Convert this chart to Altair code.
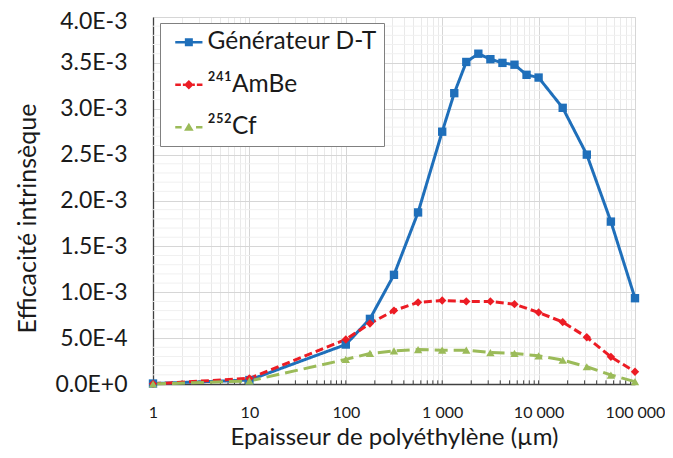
import altair as alt
import pandas as pd

# ---- data ----
SERIES = ["Générateur D-T", "²⁴¹AmBe", "²⁵²Cf"]
COLORS = ["#1f6fba", "#ec1c24", "#9bbb59"]

X_DT = [1, 10, 100, 178, 316, 562, 1000, 1334, 1778, 2371, 3162, 4217, 5623,
        7499, 10000, 17783, 31623, 56234, 100000]
Y_DT = [5e-6, 4.3e-5, 4.3e-4, 7.1e-4, 1.19e-3, 1.87e-3, 2.75e-3, 3.17e-3,
        3.51e-3, 3.60e-3, 3.54e-3, 3.50e-3, 3.48e-3, 3.37e-3, 3.34e-3,
        3.01e-3, 2.50e-3, 1.77e-3, 9.35e-4]

X_SRC = [1, 10, 100, 178, 316, 562, 1000, 1778, 3162, 5623, 10000, 17783,
         31623, 56234, 100000]
Y_AMBE = [2e-6, 6.2e-5, 4.85e-4, 6.6e-4, 8.0e-4, 8.9e-4, 9.1e-4, 9.0e-4,
          9.0e-4, 8.7e-4, 7.8e-4, 6.75e-4, 5.1e-4, 2.96e-4, 1.33e-4]
Y_CF = [0.0, 3.3e-5, 2.68e-4, 3.33e-4, 3.6e-4, 3.76e-4, 3.69e-4, 3.69e-4,
        3.43e-4, 3.33e-4, 3.07e-4, 2.6e-4, 1.88e-4, 9.8e-5, 2.5e-5]

X_TICKS = [1, 10, 100, 1000, 10000, 100000]
X_LABELS = ["1", "10", "100", "1 000", "10 000", "100 000"]
X_MINOR = [m * d for d in [1, 10, 100, 1000, 10000] for m in range(2, 10)]
Y_TICKS = [0, 0.0005, 0.001, 0.0015, 0.002, 0.0025, 0.003, 0.0035, 0.004]
Y_LABELS = ["0.0E+0", "5.0E-4", "1.0E-3", "1.5E-3", "2.0E-3", "2.5E-3",
            "3.0E-3", "3.5E-3", "4.0E-3"]
Y_MINOR = [round(i * 0.0001, 4) for i in range(41) if i % 5 != 0]

FONT = "Lato"
TEXT = "#1a1a1a"

rows = []
for x, y in zip(X_DT, Y_DT):
    rows.append({"series": SERIES[0], "x": x, "y": y})
for x, y in zip(X_SRC, Y_AMBE):
    rows.append({"series": SERIES[1], "x": x, "y": y})
for x, y in zip(X_SRC, Y_CF):
    rows.append({"series": SERIES[2], "x": x, "y": y})
df = pd.DataFrame(rows)

W, H = 482, 367


def label_expr(values, labels):
    return "".join(f"datum.value == {v} ? '{l}' : " for v, l in zip(values, labels)) + "''"


major_x = "indexof([" + ",".join(str(v) for v in X_TICKS) + "], datum.value) >= 0"

x_scale = alt.Scale(type="log", domain=[1, 100000], nice=False)
y_scale = alt.Scale(domain=[0, 0.004], nice=False, zero=True)

x_axis = alt.Axis(
    values=sorted(X_TICKS + X_MINOR), labelExpr=label_expr(X_TICKS, X_LABELS),
    title="Epaisseur de polyéthylène (µm)", grid=True,
    gridColor={"condition": {"test": major_x, "value": "#d6d6d6"}, "value": "#e9e9e9"},
    gridWidth=1, ticks=False, domainColor="#404040", domainWidth=1.3,
    labelFont=FONT, labelFontSize=16, labelColor=TEXT, labelPadding=20,
    labelOverlap=False, labelFlush=False,
    titleFont=FONT, titleFontSize=24, titleFontWeight="normal", titleColor=TEXT,
    titlePadding=5,
)
y_axis = alt.Axis(
    values=Y_TICKS, labelExpr=label_expr(Y_TICKS, Y_LABELS),
    labelOffset={"condition": {"test": "datum.value == 0.004", "value": 4}, "value": 0},
    title="Efficacité intrinsèque", grid=True, gridColor="#d6d6d6",
    gridWidth=1, ticks=False, domainColor="#404040", domainWidth=1.3,
    labelFont=FONT, labelFontSize=23, labelColor=TEXT, labelPadding=26,
    labelOverlap=False,
    titleFont=FONT, titleFontSize=25, titleFontWeight="normal", titleColor=TEXT,
    titlePadding=14, titleY=201,
)

base = alt.Chart(df)
color_enc = alt.Color("series:N", scale=alt.Scale(domain=SERIES, range=COLORS), legend=None)

minor_grid = alt.Chart(pd.DataFrame({"y": Y_MINOR})).mark_rule(
    color="#f0f0f0", strokeWidth=1).encode(
    y=alt.Y("y:Q", scale=y_scale, axis=y_axis),
)

lines = base.mark_line(strokeWidth=3).encode(
    x=alt.X("x:Q", scale=x_scale, axis=x_axis),
    y=alt.Y("y:Q", scale=y_scale, axis=y_axis),
    color=color_enc,
    strokeDash=alt.StrokeDash("series:N", scale=alt.Scale(domain=SERIES, range=[[1, 0], [8, 4], [13, 6]]), legend=None),
    detail="series:N",
)

points = base.mark_point(filled=True, opacity=1, size=70).encode(
    x=alt.X("x:Q", scale=x_scale),
    y=alt.Y("y:Q", scale=y_scale),
    color=color_enc,
    shape=alt.Shape("series:N", scale=alt.Scale(domain=SERIES, range=["square", "diamond", "triangle-up"]), legend=None),
)

ticks_df = pd.DataFrame({"x": X_MINOR + X_TICKS})
minor_ticks = alt.Chart(ticks_df).mark_rule(color="#404040", strokeWidth=1).encode(
    x=alt.X("x:Q", scale=x_scale),
    y=alt.Y(datum=0, scale=y_scale),
    y2=alt.Y2(datum=0.00004),
)

# legend symbols: line + marker drawn as custom symbol paths
P_DT = "M-1,-0.32H5.8V0.32H-1Z M1.4,-1H3.4V1H1.4Z"
P_AM = ("M-1,-0.32H0.4V0.32H-1Z M0.9,-0.32H1.4V0.32H0.9Z "
        "M2.4,-1.2L3.6,0L2.4,1.2L1.2,0Z M3.4,-0.32H3.9V0.32H3.4Z M4.4,-0.32H5.8V0.32H4.4Z")
P_CF = ("M-1,-0.32H0.6V0.32H-1Z M2.4,-1.1L3.6,0.9L1.2,0.9Z M4.2,-0.32H5.8V0.32H4.2Z")

legend_layer = base.mark_point(filled=True, opacity=1).encode(
    x=alt.X("x:Q", scale=x_scale),
    y=alt.Y("y:Q", scale=y_scale),
    color=alt.Color("series:N", scale=alt.Scale(domain=SERIES, range=COLORS),
                    legend=alt.Legend(
                        title=None, orient="none", legendX=7, legendY=6,
                        strokeColor="#808080", fillColor="white", padding=7,
                        labelFont=FONT, labelFontSize=24.5, labelColor=TEXT,
                        labelOffset=16, symbolSize=64, symbolStrokeWidth=0,
                        rowPadding=17.5, labelLimit=400, cornerRadius=0)),
    shape=alt.Shape("series:N", scale=alt.Scale(domain=SERIES, range=[P_DT, P_AM, P_CF])),
).transform_filter("false")

chart = alt.layer(minor_grid, minor_ticks, lines, points, legend_layer).resolve_scale(
    color="independent", shape="independent", strokeDash="independent"
).properties(
    width=W, height=H,
    autosize=alt.AutoSizeParams(type="none"),
    padding={"left": 145, "top": 9, "right": 30, "bottom": 66},
).configure_view(
    stroke="#404040", strokeWidth=1.2
).configure(background="white")

chart.save("out.html", embed_options={"renderer": "svg", "actions": False})
